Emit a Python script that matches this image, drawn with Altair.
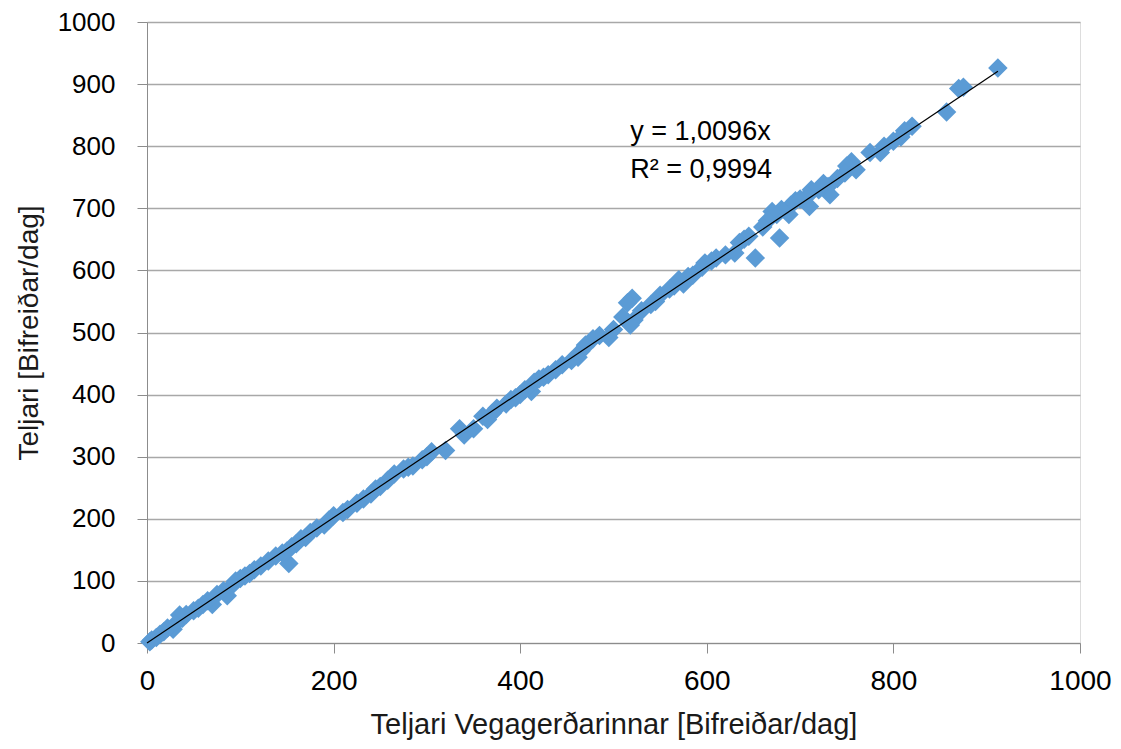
import altair as alt
import pandas as pd

x_vals = [912, 870, 875, 857, 820, 812, 808, 790, 786, 775, 755, 750, 748, 740,
          730, 732, 720, 712, 708, 710, 695, 690, 688, 680, 675, 670, 665, 660,
          652, 678, 645, 640, 635, 630, 610, 605, 598, 595, 580, 575, 570, 565,
          560, 550, 545, 540, 530, 520, 515, 522, 518, 510, 500, 495, 485, 478,
          470, 465, 462, 455, 445, 438, 430, 420, 415, 412, 405, 400, 395, 390,
          385, 375, 370, 365, 350, 340, 335, 320, 305, 300, 295, 285, 275, 265,
          258, 250, 245, 240, 232, 225, 215, 210, 200, 195, 190, 182, 175, 170,
          165, 160, 155, 152, 150, 145, 138, 130, 122, 115, 110, 105, 100, 95,
          92, 86, 82, 75, 70, 65, 60, 55, 50, 42, 38, 35, 30, 28, 22, 18, 14,
          10, 5, 3, 700, 725, 760, 800, 585, 620, 470, 425, 360, 280]
y_vals = [926, 893, 895, 855, 832, 825, 815, 800, 790, 790, 775, 768, 757, 748,
          735, 722, 730, 730, 720, 703, 712, 705, 690, 698, 690, 695, 680, 670,
          620, 652, 655, 650, 645, 628, 620, 615, 612, 605, 590, 578, 585, 575,
          570, 560, 550, 545, 535, 555, 548, 520, 512, 525, 505, 492, 495, 490,
          480, 470, 460, 455, 448, 440, 432, 425, 420, 405, 408, 400, 395, 392,
          385, 378, 370, 360, 345, 335, 345, 310, 308, 300, 295, 285, 280, 272,
          262, 252, 248, 240, 232, 225, 215, 210, 205, 198, 190, 185, 178, 170,
          168, 160, 155, 128, 148, 145, 140, 132, 124, 118, 112, 108, 104, 100,
          94, 76, 84, 78, 62, 68, 62, 56, 52, 46, 40, 45, 30, 22, 24, 18, 14,
          9, 5, 2, 715, 740, 762, 808, 592, 625, 478, 428, 365, 283]

slope = 1.0096
trend_x = [0, 912]
eq_lines = ["y = 1,0096x", "R² = 0,9994"]
eq_x = [518, 518]
eq_y = [810, 748]

points = pd.DataFrame({"x": x_vals, "y": y_vals})
trend = pd.DataFrame({"x": trend_x, "y": [slope * v for v in trend_x]})
labels = pd.DataFrame({"t": eq_lines, "x": eq_x, "y": eq_y})

font = "Liberation Sans"

xscale = alt.Scale(domain=[0, 1000], nice=False, zero=True)
yscale = alt.Scale(domain=[0, 1000], nice=False, zero=True)

xaxis = alt.Axis(values=[0, 200, 400, 600, 800, 1000], grid=False, format="d",
                 title="Teljari Vegagerðarinnar [Bifreiðar/dag]",
                 labelFont=font, labelFontSize=28, labelColor="black",
                 labelFlush=False, labelPadding=14, tickSize=10, tickColor="#8c8c8c",
                 domainColor="#8c8c8c", titleFont=font, titleFontSize=29,
                 titleFontWeight="normal", titleColor="#1a1a1a", titlePadding=15)
yaxis = alt.Axis(values=list(range(0, 1001, 100)), grid=True, format="d",
                 gridColor="#a8a8a8", gridWidth=1.3,
                 title="Teljari [Bifreiðar/dag]",
                 labelFont=font, labelFontSize=26, labelColor="black",
                 labelPadding=22, tickSize=10, tickColor="#8c8c8c",
                 domainColor="#8c8c8c", titleFont=font, titleFontSize=28,
                 titleFontWeight="normal", titleColor="#1a1a1a", titlePadding=14)

pts = alt.Chart(points).mark_point(shape="diamond", filled=True, size=380,
                                   color="#5B9BD5", opacity=1).encode(
    x=alt.X("x:Q", scale=xscale, axis=xaxis),
    y=alt.Y("y:Q", scale=yscale, axis=yaxis),
)

line = alt.Chart(trend).mark_line(color="black", strokeWidth=1.2).encode(
    x="x:Q", y="y:Q")

txt = alt.Chart(labels).mark_text(align="left", baseline="alphabetic",
                                  font=font, fontSize=27, color="black").encode(
    x="x:Q", y="y:Q", text="t:N")

chart = alt.layer(pts, line, txt).properties(
    width=933, height=621,
    autosize=alt.AutoSizeParams(type="none"),
    padding={"left": 139, "top": 14, "right": 32, "bottom": 103},
).configure_view(stroke=None).configure(background="white")

chart.save("out.html", embed_options={"renderer": "svg", "actions": False})
